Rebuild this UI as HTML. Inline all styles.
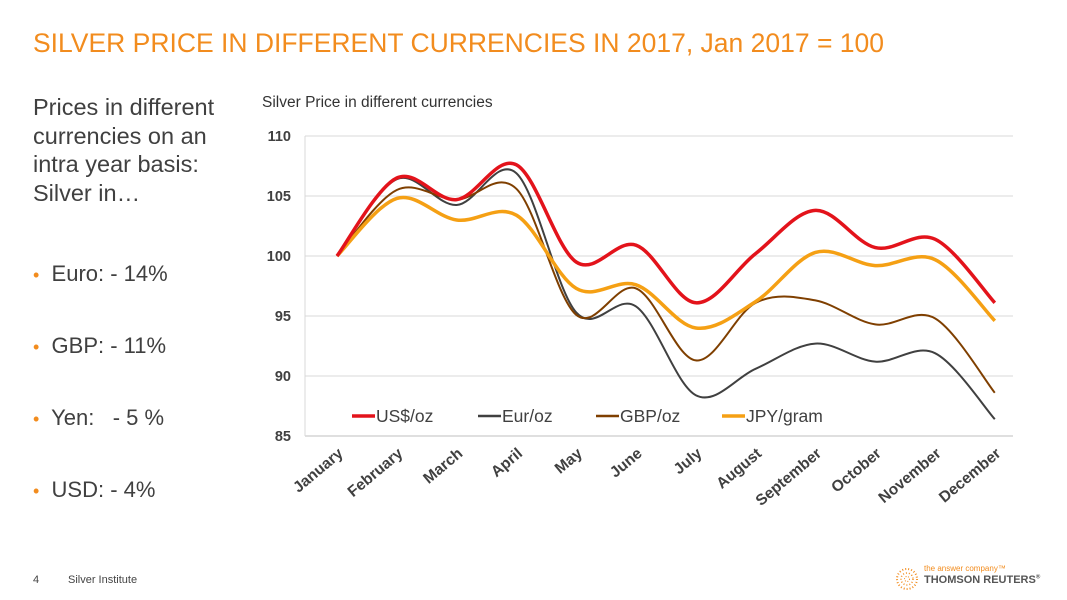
<!DOCTYPE html>
<html><head><meta charset="utf-8"><style>
body{margin:0;width:1067px;height:600px;background:#fff;font-family:"Liberation Sans",sans-serif;position:relative;overflow:hidden}
.t{position:absolute;white-space:nowrap}
</style></head><body>
<div class="t" style="left:33px;top:28px;font-size:26.5px;color:#f28c1e">SILVER PRICE IN DIFFERENT CURRENCIES IN 2017, Jan 2017 = 100</div>
<div class="t" style="left:33px;top:93px;font-size:23.5px;line-height:28.5px;color:#404040">Prices in different<br>currencies on an<br>intra year basis:<br>Silver in…</div>
<div class="t" style="left:33px;top:261px;font-size:22px;color:#404040"><span style="color:#f28c1e;font-size:18px">•</span>&nbsp; Euro: - 14%</div>
<div class="t" style="left:33px;top:333px;font-size:22px;color:#404040"><span style="color:#f28c1e;font-size:18px">•</span>&nbsp; GBP: - 11%</div>
<div class="t" style="left:33px;top:405px;font-size:22px;color:#404040"><span style="color:#f28c1e;font-size:18px">•</span>&nbsp; Yen:&nbsp;&nbsp; - 5 %</div>
<div class="t" style="left:33px;top:477px;font-size:22px;color:#404040"><span style="color:#f28c1e;font-size:18px">•</span>&nbsp; USD: - 4%</div>
<div class="t" style="left:262px;top:94px;font-size:15.5px;color:#333">Silver Price in different currencies</div>
<div class="t" style="left:33px;top:574px;font-size:11px;color:#444">4</div>
<div class="t" style="left:68px;top:574px;font-size:11px;color:#444">Silver Institute</div>
<div class="t" style="left:924px;top:564px;font-size:8px;color:#f28c1e">the answer company™</div>
<div class="t" style="left:924px;top:574px;font-size:11px;font-weight:bold;color:#555">THOMSON REUTERS<sup style="font-size:6px">®</sup></div>
<svg style="position:absolute;left:894px;top:566px" width="26" height="26">
<circle cx="13" cy="13" r="10" fill="none" stroke="#f28c1e" stroke-width="2" stroke-dasharray="1 2"/>
<circle cx="13" cy="13" r="6" fill="none" stroke="#f28c1e" stroke-width="1.5" stroke-dasharray="1 2"/>
<circle cx="13" cy="13" r="2.5" fill="none" stroke="#f28c1e" stroke-width="1" stroke-dasharray="1 1.5"/></svg>
<svg id="chart" style="position:absolute;left:0;top:0" width="1067" height="600"></svg>
<script>
const categories=["January","February","March","April","May","June","July","August","September","October","November","December"];
const usd=[100,106.5,104.7,107.6,99.5,100.9,96.1,100.2,103.8,100.7,101.4,96.1];
const eur=[100,106.4,104.25,106.9,95.3,95.8,88.4,90.6,92.7,91.2,91.9,86.4];
const gbp=[100,105.5,104.7,105.6,95.1,97.3,91.3,96.1,96.3,94.3,94.8,88.6];
const jpy=[100,104.8,103,103.4,97.3,97.6,94,96.2,100.3,99.2,99.7,94.6];
const yTicks=[85,90,95,100,105,110];
const seriesNames=["US$/oz","Eur/oz","GBP/oz","JPY/gram"];
const NS="http://www.w3.org/2000/svg",svg=document.getElementById('chart');
const X0=305,X1=1013,Y0=436,Y1=136,ymin=85,ymax=110;
const step=59.8;
const xs=i=>337+step*i;
const ys=v=>Y0-(v-ymin)/(ymax-ymin)*(Y0-Y1);
function mk(tag,a){const e=document.createElementNS(NS,tag);for(const k in a)e.setAttribute(k,a[k]);svg.appendChild(e);return e;}
yTicks.forEach(v=>{
 const g=mk('line',{x1:X0,x2:X1,y1:ys(v),y2:ys(v),stroke:v===85?'#bfbfbf':'#d9d9d9','stroke-width':1});
 
 
 const t=mk('text',{x:291,y:ys(v)+5,'text-anchor':'end','font-size':14.5,'font-weight':'bold',fill:'#404040','font-family':'Liberation Sans'});
 t.textContent=v;
 
 
});
const ax=mk('line',{x1:X0,x2:X0,y1:Y1,y2:Y0,stroke:'#d9d9d9'});


categories.forEach((c,i)=>{
 const x=xs(i)+7,y=Y0+19;
 const t=mk('text',{x:x,y:y,'text-anchor':'end','font-size':15.5,'font-weight':'bold',fill:'#404040','font-family':'Liberation Sans',transform:`rotate(-40 ${x} ${y})`});
 t.textContent=c;
 
 
});
function path(vals){
 const p=vals.map((v,i)=>[xs(i),ys(v)]);let d=`M${p[0][0]},${p[0][1]}`;const k=0.5/3*2;
 for(let i=0;i<p.length-1;i++){
  const p0=p[i-1]||p[i],p1=p[i],p2=p[i+1],p3=p[i+2]||p2;
  const c1=[p1[0]+(p2[0]-p0[0])*k/2,p1[1]+(p2[1]-p0[1])*k/2];
  const c2=[p2[0]-(p3[0]-p1[0])*k/2,p2[1]-(p3[1]-p1[1])*k/2];
  d+=` C${c1[0]},${c1[1]} ${c2[0]},${c2[1]} ${p2[0]},${p2[1]}`;
 }return d;}
const defs=[[eur,'#404040',2,'series-eur'],[gbp,'#7f3f00',2,'series-gbp'],[jpy,'#f5a014',3.5,'series-jpy'],[usd,'#e3131b',3.5,'series-usd']];
defs.forEach(s=>{
 const e=mk('path',{d:path(s[0]),fill:'none',stroke:s[1],'stroke-width':s[2],'stroke-linejoin':'round'});
 
 
});
const leg=[[352,'#e3131b',3.5],[478,'#404040',2.5],[596,'#7f3f00',2.5],[722,'#f5a014',3.5]];
leg.forEach((l,i)=>{
 const ln=mk('line',{x1:l[0],x2:l[0]+23,y1:416,y2:416,stroke:l[1],'stroke-width':l[2]});
 
 
 const t=mk('text',{x:l[0]+24,y:422,'font-size':17.5,fill:'#404040','font-family':'Liberation Sans'});
 t.textContent=seriesNames[i];
 
 
});
</script>
</body></html>
